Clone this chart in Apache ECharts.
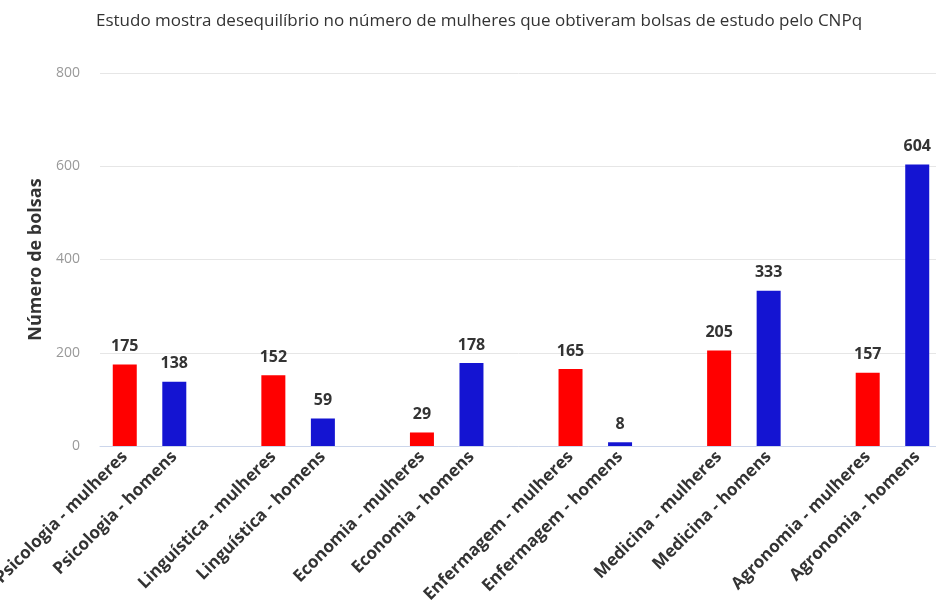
<!DOCTYPE html>
<html>
<head>
<meta charset="utf-8">
<script src="https://cdn.jsdelivr.net/npm/echarts@6/dist/echarts.min.js"></script>
<style>html,body{margin:0;padding:0;background:#fff}#c{width:936px;height:614px}</style>
</head>
<body>
<div id="c"></div>
<script>
var categories = ["Psicologia - mulheres","Psicologia - homens","","Linguística - mulheres","Linguística - homens","","Economia - mulheres","Economia - homens","","Enfermagem - mulheres","Enfermagem - homens","","Medicina - mulheres","Medicina - homens","","Agronomia - mulheres","Agronomia - homens"];
var values = [175,138,null,152,59,null,29,178,null,165,8,null,205,333,null,157,604];
var barColors = ["#ff0000","#1414d2"];
var yTicks = [0,200,400,600,800];

var data = values.map(function(v,i){
  var isMen = /homens/.test(categories[i]);
  return {value:v, itemStyle:{color: isMen ? barColors[1] : barColors[0]}};
});

var chart = echarts.init(document.getElementById('c'));
chart.setOption({
  animation:false,
  title:{
    text:'',
    subtext:'Estudo mostra desequilíbrio no número de mulheres que obtiveram bolsas de estudo pelo CNPq',
    left:474, textAlign:'center', top:-2,
    subtextStyle:{fontFamily:'Open Sans', fontSize:17, color:'#333'}
  },
  grid:{left:100, right:-6, top:73, bottom:168, containLabel:false, outerBoundsMode:'none'},
  xAxis:{
    type:'category', data:categories,
    axisLine:{lineStyle:{color:'#ccd6eb'}},
    axisTick:{length:15, lineStyle:{color:'#ccd6eb'}},
    axisLabel:{rotate:45, interval:0, fontFamily:'Open Sans', fontWeight:'bold', fontSize:17, color:'#333', margin:8}
  },
  yAxis:{
    type:'value', min:yTicks[0], max:yTicks[yTicks.length-1], interval:200,
    name:'Número de bolsas', nameLocation:'middle', nameGap:52,
    nameTextStyle:{fontFamily:'Open Sans', fontWeight:'bold', fontSize:18, color:'#333'},
    axisLabel:{fontFamily:'Open Sans', fontSize:14, color:'#999', margin:20},
    splitLine:{lineStyle:{color:'#e6e6e6'}},
    axisLine:{show:false}, axisTick:{show:false}
  },
  series:[{
    type:'bar', data:data, barWidth:24,
    label:{show:true, position:'top', distance:10, fontFamily:'Open Sans', fontWeight:'bold', fontSize:16, color:'#333'}
  }]
});
</script>
</body>
</html>
